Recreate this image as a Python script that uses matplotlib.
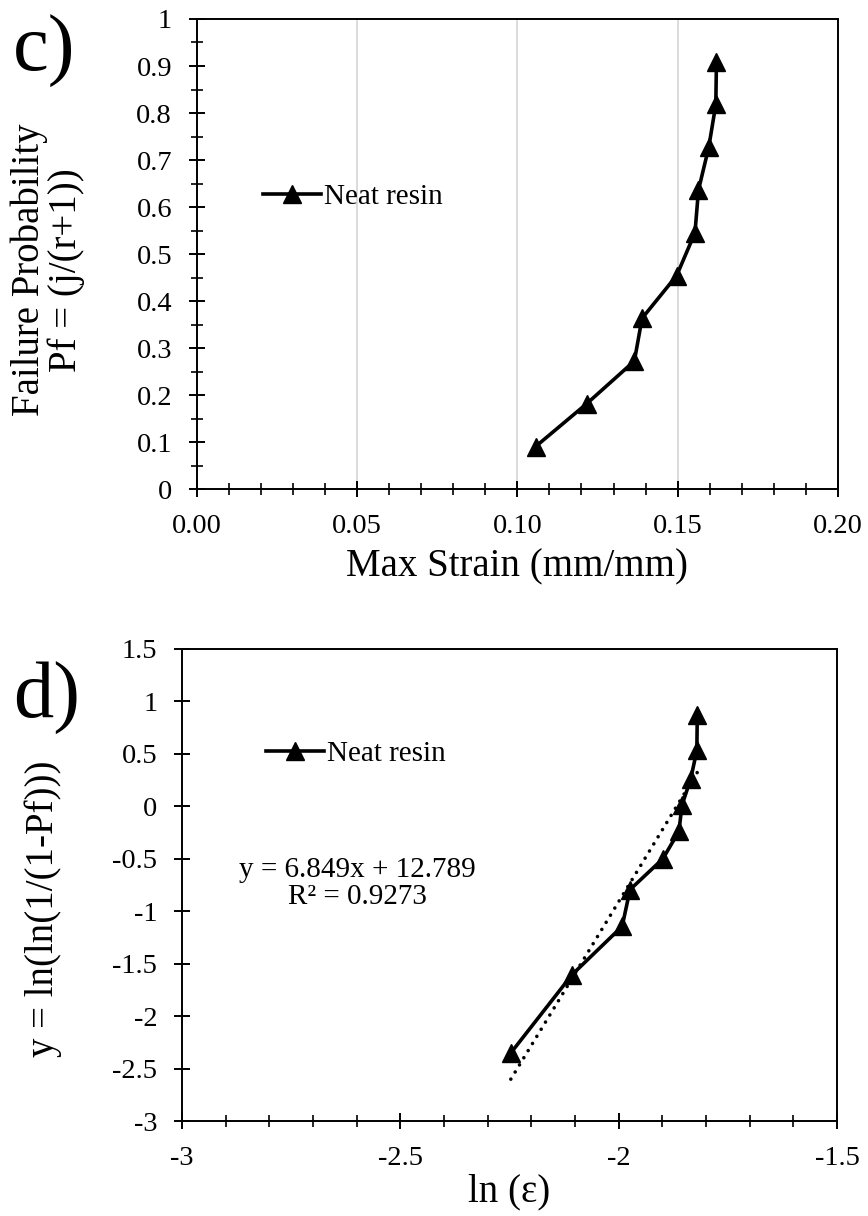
import matplotlib
matplotlib.use("Agg")
import matplotlib.pyplot as plt
from matplotlib.ticker import MultipleLocator, FuncFormatter

plt.rcParams['font.family'] = ['Liberation Serif', 'DejaVu Serif']
plt.rcParams['axes.unicode_minus'] = False

# ---- data (c) ----
strain = [0.1057, 0.1216, 0.1365, 0.1389, 0.1497, 0.1554, 0.1565, 0.1597, 0.1619, 0.1621]
pf = [0.0909, 0.1818, 0.2727, 0.3636, 0.4545, 0.5455, 0.6364, 0.7273, 0.8182, 0.9091]
# ---- data (d) ----
ln_strain = [-2.247, -2.107, -1.992, -1.974, -1.899, -1.862, -1.855, -1.835, -1.821, -1.820]
weibull_y = [-2.351, -1.606, -1.144, -0.794, -0.501, -0.238, 0.012, 0.262, 0.533, 0.875]
trend_slope = 6.849
trend_intercept = 12.789
series_name = "Neat resin"
eq_text = "y = 6.849x + 12.789\nR² = 0.9273"

TICK_FS = 20.5
LABEL_FS = 28
LEG_FS = 21

fig = plt.figure(figsize=(8.68, 12.16), dpi=100)

gen = FuncFormatter(lambda v, p: f"{v:g}")

def style_axes(ax):
    for s in ax.spines.values():
        s.set_linewidth(1.4)
        s.set_color('black')
    ax.tick_params(which='major', direction='inout', length=11.5, width=1.4,
                   labelsize=TICK_FS, color='black')
    ax.tick_params(axis='y', which='major', pad=12)
    ax.tick_params(axis='x', which='major', pad=12)
    ax.tick_params(which='minor', direction='inout', length=8.5, width=1.2, color='black')

# ---------------- (c) ----------------
ax1 = fig.add_axes([0.2266, 0.5976, 0.7388, 0.3868])
ax1.set_xlim(0, 0.2)
ax1.set_ylim(0, 1)
ax1.xaxis.set_major_locator(MultipleLocator(0.05))
ax1.xaxis.set_minor_locator(MultipleLocator(0.01))
ax1.yaxis.set_major_locator(MultipleLocator(0.1))
ax1.yaxis.set_minor_locator(MultipleLocator(0.05))
ax1.xaxis.set_major_formatter(FuncFormatter(lambda v, p: f"{v:.2f}"))
ax1.yaxis.set_major_formatter(gen)
ax1.grid(axis='x', which='major', color='#d9d9d9', linewidth=1.3, zorder=0)
ax1.set_axisbelow(True)
style_axes(ax1)
ax1.plot(strain, pf, color='black', linewidth=2.6, marker='^', markersize=13,
         label=series_name, zorder=3)
ax1.legend(loc='center left', bbox_to_anchor=(0.103, 0.622), frameon=False,
           fontsize=LEG_FS, handlelength=2.0, handletextpad=0.1, borderpad=0,
           borderaxespad=0)
ax1.set_xlabel("Max Strain (mm/mm)", fontsize=LABEL_FS)
ax1.xaxis.set_label_coords(0.5, -0.125)
ax1.set_ylabel("Failure Probability\nPf = (j/(r+1))", fontsize=LABEL_FS,
               linespacing=1.0)
ax1.yaxis.set_label_coords(-0.174, 0.466)
fig.text(0.015, 0.958, "c)", fontsize=58, ha='left', va='center')

# ---------------- (d) ----------------
ax2 = fig.add_axes([0.2097, 0.0781, 0.7546, 0.3882])
ax2.set_xlim(-3, -1.5)
ax2.set_ylim(-3, 1.5)
ax2.xaxis.set_major_locator(MultipleLocator(0.5))
ax2.xaxis.set_minor_locator(MultipleLocator(0.1))
ax2.yaxis.set_major_locator(MultipleLocator(0.5))
ax2.xaxis.set_major_formatter(gen)
ax2.yaxis.set_major_formatter(gen)
style_axes(ax2)
xmin, xmax = min(ln_strain), max(ln_strain)
ax2.plot([xmin, xmax],
         [trend_slope * xmin + trend_intercept, trend_slope * xmax + trend_intercept],
         color='black', linewidth=2.6, linestyle=(0, (0.01, 2.3)),
         dash_capstyle='round', zorder=2)
ax2.plot(ln_strain, weibull_y, color='black', linewidth=2.6, marker='^',
         markersize=13, label=series_name, zorder=3)
ax2.legend(loc='center left', bbox_to_anchor=(0.128, 0.778), frameon=False,
           fontsize=LEG_FS, handlelength=2.0, handletextpad=0.1, borderpad=0,
           borderaxespad=0)
ax2.text(0.268, 0.504, eq_text, transform=ax2.transAxes, ha='center', va='center',
         fontsize=21, linespacing=1.05)
ax2.set_xlabel("ln (ε)", fontsize=LABEL_FS)
ax2.xaxis.set_label_coords(0.5, -0.11)
ax2.set_ylabel("y = ln(ln(1/(1-Pf)))", fontsize=LABEL_FS)
ax2.yaxis.set_label_coords(-0.183, 0.449)
fig.text(0.015, 0.426, "d)", fontsize=58, ha='left', va='center')

fig.savefig("out.png", dpi=100)
